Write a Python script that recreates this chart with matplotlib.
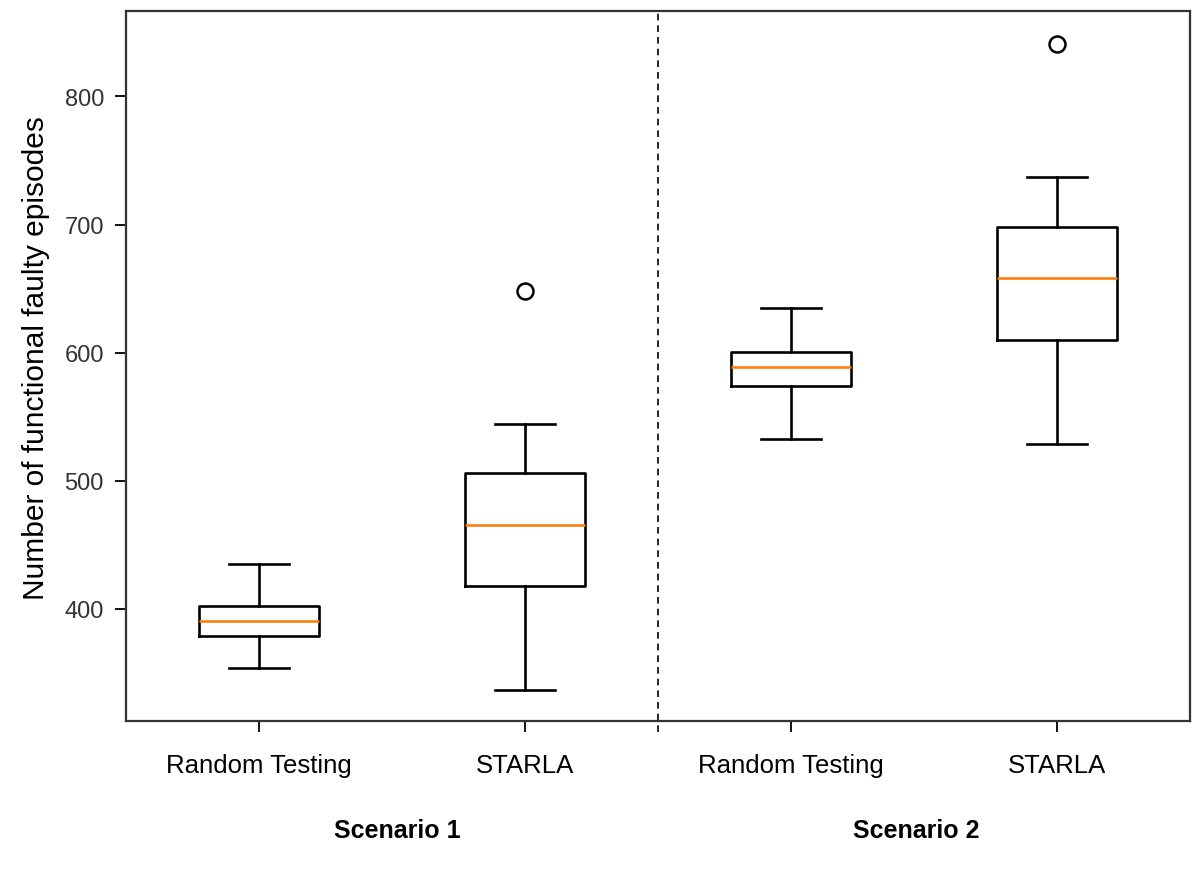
import matplotlib.pyplot as plt

plt.rcParams['font.family'] = ['Liberation Sans', 'DejaVu Sans']

# box statistics
labels = ['Random Testing', 'STARLA', 'Random Testing', 'STARLA']
whislo = [354, 337, 533, 529]
q1 = [379, 418, 574, 610]
med = [391, 465.5, 588.5, 658]
q3 = [402, 506, 600.5, 698]
whishi = [435, 544, 635, 737]
fliers = [[], [648], [], [841]]
scenarios = ['Scenario 1', 'Scenario 2']

stats = []
for i in range(len(labels)):
    stats.append({'whislo': whislo[i], 'q1': q1[i], 'med': med[i], 'q3': q3[i],
                  'whishi': whishi[i], 'fliers': fliers[i], 'label': labels[i]})

fig = plt.figure(figsize=(12.01, 8.7), dpi=100)
ax = fig.add_axes([0.105, 0.170, 0.886, 0.816])

lw = 1.9
ax.bxp(stats, positions=[1, 2, 3, 4], widths=0.45,
       boxprops=dict(color='black', linewidth=lw),
       whiskerprops=dict(color='black', linewidth=lw),
       capprops=dict(color='black', linewidth=lw),
       medianprops=dict(color='#ff7f0e', linewidth=lw),
       flierprops=dict(marker='o', markerfacecolor='none', markeredgecolor='black',
                       markersize=11.5, markeredgewidth=1.8))

ax.set_xlim(0.5, 4.5)
ax.set_ylim(312.5, 866.5)
ax.set_yticks([400, 500, 600, 700, 800])

ax.axvline(2.5, ymin=-0.015, ymax=1, color='black', linestyle='--', linewidth=1.2,
           dashes=(4, 3), clip_on=False)

ax.tick_params(axis='x', labelsize=18.5, length=8, width=1.3, pad=15, colors='black')
ax.tick_params(axis='y', labelsize=17, length=8, width=1.3, pad=8, labelcolor='#333333')
for s in ax.spines.values():
    s.set_color('#333333')
    s.set_linewidth(1.6)

ax.set_ylabel('Number of functional faulty episodes', fontsize=21.5)
ax.yaxis.set_label_coords(-0.0715, 0.513)

ax.text(1.52, -0.153, scenarios[0], transform=ax.get_xaxis_transform(),
        ha='center', va='center', fontsize=18, fontweight='bold')
ax.text(3.47, -0.153, scenarios[1], transform=ax.get_xaxis_transform(),
        ha='center', va='center', fontsize=18, fontweight='bold')

fig.savefig('out.png', dpi=100)
